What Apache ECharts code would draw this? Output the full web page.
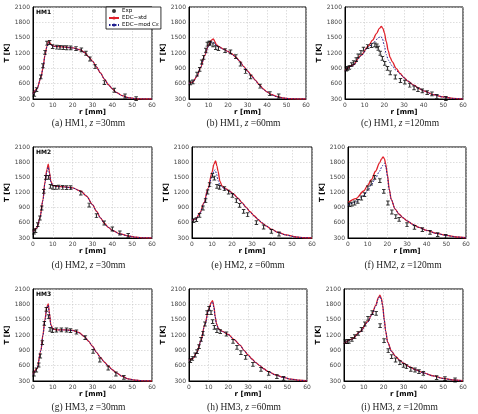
<!DOCTYPE html>
<html><head><meta charset="utf-8">
<script src="https://cdn.jsdelivr.net/npm/echarts@6/dist/echarts.min.js"></script>
<style>html,body{margin:0;padding:0;background:#fff}#c{width:478px;height:414px}</style>
</head><body><div id="c"></div>
<script>
// ---- data: r [mm], T [K] ----
const xTicks = [0,10,20,30,40,50,60];
const yTicks = [300,600,900,1200,1500,1800,2100];

const a_exp = [[0.7,392],[1.8,484],[3.9,734],[5,951],[6,1214],[7,1392],[8.4,1405],[9.9,1326],[12,1313],[13.6,1310],[15.3,1306],[17,1303],[19,1300],[21.7,1287],[24.4,1260],[26.7,1195],[28.7,1083],[31.3,932],[36,622],[41,471],[46.4,359],[52,307]];
const a_std = [[0,400],[2,500],[4,720],[5,900],[6,1150],[7,1330],[7.8,1420],[8.5,1400],[9.5,1350],[11,1330],[15,1320],[20,1300],[24,1260],[26,1210],[28,1130],[30,1040],[32,930],[34,810],[36,690],[38,580],[40,500],[42,430],[45,365],[48,325],[52,305],[56,300],[60,300]];
const a_mod = [[0,400],[2,500],[4,715],[5,895],[6,1140],[7,1320],[7.8,1395],[8.5,1380],[9.5,1345],[11,1328],[15,1318],[20,1298],[24,1258],[26,1208],[28,1128],[30,1038],[32,928],[34,808],[36,688],[38,578],[40,498],[42,428],[45,364],[48,324],[52,305],[56,300],[60,300]];

const b_exp = [[0.7,616],[2,635],[4.1,787],[5.5,879],[6.5,1024],[7.5,1116],[8.6,1254],[9.4,1372],[10.3,1392],[11,1392],[12.3,1359],[13.7,1306],[15.1,1287],[18.5,1247],[21.3,1221],[24,1129],[26.4,984],[29,839],[31.6,734],[36.4,550],[41.5,405],[46,359]];
const b_std = [[0,600],[2,630],[4,740],[6,920],[8,1150],[10,1350],[11.5,1450],[12.5,1475],[13.3,1420],[14,1360],[16,1310],[18,1270],[20,1230],[22,1180],[24,1120],[26,1040],[28,940],[30,850],[32,760],[34,670],[36,580],[38,500],[40,440],[42,390],[45,350],[48,320],[52,305],[56,300],[60,300]];
const b_mod = [[0,600],[2,630],[4,740],[6,920],[8,1150],[10,1330],[11.5,1410],[12.3,1420],[13.3,1380],[14,1340],[16,1300],[18,1265],[20,1225],[22,1175],[24,1115],[26,1035],[28,935],[30,845],[32,755],[34,665],[36,575],[38,495],[40,435],[42,385],[45,345],[48,318],[52,305],[56,300],[60,300]];

const c_exp = [[0.7,886],[1.3,899],[2.2,920],[3.4,971],[4.4,1010],[5.7,1070],[6.7,1142],[8.1,1214],[9.4,1274],[11.5,1326],[13.5,1346],[15.2,1359],[16.2,1339],[16.9,1293],[17.9,1195],[19,1096],[20.2,997],[21.6,899],[23,813],[25.6,730],[28.2,662],[30.4,630],[32.9,570],[35.1,517],[37.1,484],[39.3,458],[41.8,425],[44.2,400],[46.7,350],[51.3,310]];
const c_std = [[0,850],[4,960],[8,1150],[12,1340],[14,1450],[16,1580],[17.5,1680],[18.5,1720],[19.3,1680],[20,1600],[21,1420],[22,1240],[23,1110],[24,1030],[26,900],[28,800],[30,720],[32,650],[35,570],[38,500],[40,460],[45,385],[50,340],[55,312],[60,300]];
const c_mod = [[0,850],[4,955],[8,1140],[12,1320],[15,1420],[17,1500],[18.3,1520],[19,1480],[20,1340],[21,1170],[22,1060],[24,950],[26,860],[28,790],[30,715],[32,648],[35,568],[38,498],[40,458],[45,383],[50,338],[55,311],[60,300]];

const d_exp = [[0.5,419],[1.3,445],[2.4,564],[3.5,696],[4.4,893],[5.4,1222],[6.4,1499],[7.8,1499],[8.8,1321],[10.1,1301],[11.5,1300],[13,1305],[15,1300],[17,1298],[19,1295],[24.1,1189],[28.3,952],[32,741],[35.9,597],[40,478],[43.8,399],[48,350]];
const d_std = [[0,420],[2,500],[3.5,700],[5,1050],[6,1400],[7,1650],[7.7,1760],[8.3,1600],[9,1420],[10,1340],[12,1320],[16,1310],[20,1290],[24,1230],[27,1130],[30,960],[32,830],[34,700],[36,590],[38,510],[40,450],[44,380],[48,340],[52,315],[56,302],[60,300]];
const d_mod = [[0,420],[2,500],[3.5,695],[5,1040],[6,1380],[7,1610],[7.7,1700],[8.3,1570],[9,1410],[10,1335],[12,1318],[16,1308],[20,1288],[24,1228],[27,1128],[30,958],[32,828],[34,698],[36,588],[38,508],[40,448],[44,378],[48,338],[52,314],[56,302],[60,300]];

const e_exp = [[0.8,643],[2.2,663],[3.8,748],[5.5,893],[6.8,1038],[7.8,1210],[8.8,1354],[10.2,1539],[11.2,1486],[12.5,1321],[13.8,1301],[16.2,1275],[18.3,1209],[20.2,1143],[22.2,1038],[23.8,945],[25.8,827],[27.8,761],[32.2,603],[35.8,518],[39.7,432],[43.5,379]];
const e_std = [[0,650],[2,680],[4,800],[6,1000],[8,1280],[10,1600],[11,1760],[11.8,1825],[12.5,1720],[13,1620],[14,1420],[15,1330],[17,1270],[19,1220],[21,1160],[23,1090],[25,1000],[27,910],[29,820],[31,740],[33,670],[35,600],[37,540],[40,470],[43,410],[47,360],[52,320],[56,305],[60,300]];
const e_mod = [[0,650],[2,675],[4,790],[6,985],[8,1250],[10,1520],[11,1630],[11.6,1650],[12.3,1560],[13,1440],[14,1340],[15,1300],[17,1262],[19,1215],[21,1155],[23,1085],[25,997],[27,907],[29,818],[31,738],[33,668],[35,598],[37,538],[40,468],[43,408],[47,358],[52,319],[56,305],[60,300]];

const f_exp = [[0.8,959],[2,972],[3.4,992],[5,1025],[6.8,1091],[8.4,1157],[10.1,1289],[11.8,1388],[13.5,1500],[16.2,1434],[18.2,1223],[20.3,992],[22.3,814],[24.3,721],[26,669],[30,563],[33.8,511],[37.8,465],[41.7,412],[45.6,366],[49.7,333]];
const f_std = [[0,1000],[4,1080],[8,1230],[10,1340],[12,1460],[14,1620],[16,1780],[17,1860],[17.8,1905],[18.5,1870],[19.2,1760],[20,1560],[21,1260],[22,1060],[24,870],[26,770],[28,700],[30,640],[33,570],[36,510],[40,450],[45,390],[50,350],[55,320],[60,305]];
const f_mod = [[0,950],[4,1010],[8,1140],[10,1240],[12,1360],[14,1480],[16,1620],[17.5,1730],[18.5,1780],[19.3,1700],[20,1520],[21,1250],[22,1060],[24,870],[26,770],[28,700],[30,640],[33,570],[36,510],[40,450],[45,390],[50,350],[55,320],[60,305]];

const g_exp = [[0.5,437],[1.7,515],[2.9,613],[3.7,789],[4.7,1050],[5.7,1428],[6.7,1702],[7.8,1558],[8.6,1311],[9.8,1285],[11.8,1298],[14.3,1300],[16.9,1298],[18.9,1285],[21.9,1259],[26.3,1148],[30.3,880],[33.7,711],[37.9,554],[41.8,437],[45.8,372]];
const g_std = [[0,430],[2,540],[4,900],[5,1200],[6,1500],[7,1750],[7.7,1810],[8.3,1620],[9,1400],[10,1320],[12,1300],[16,1300],[20,1290],[23,1250],[26,1170],[28,1080],[30,980],[32,860],[34,760],[36,670],[38,590],[40,520],[42,460],[45,390],[48,340],[52,315],[56,302],[60,300]];
const g_mod = [[0,430],[2,540],[4,895],[5,1190],[6,1480],[7,1720],[7.7,1780],[8.3,1600],[9,1390],[10,1318],[12,1298],[16,1298],[20,1288],[23,1248],[26,1168],[28,1078],[30,978],[32,858],[34,758],[36,668],[38,588],[40,518],[42,458],[45,389],[48,339],[52,315],[56,302],[60,300]];

const h_exp = [[0.7,698],[1.7,744],[3.1,809],[4.1,874],[5.1,972],[6.1,1115],[7.1,1233],[8.1,1415],[9.2,1637],[10.2,1722],[11.2,1637],[12,1461],[12.9,1350],[14.2,1285],[15.9,1265],[19,1220],[22.4,1076],[24.4,958],[26.4,854],[28.8,763],[32.5,626],[36.6,528],[40.5,450],[44.7,385],[48.1,352]];
const h_std = [[0,700],[2,740],[4,860],[6,1080],[8,1400],[10,1700],[11.3,1840],[12,1870],[12.7,1750],[13.3,1560],[14,1420],[15,1320],[17,1270],[20,1210],[23,1110],[26,1000],[28,900],[30,810],[32,730],[34,660],[36,600],[38,540],[40,490],[44,420],[48,370],[52,335],[56,315],[60,305]];
const h_mod = [[0,700],[2,740],[4,855],[6,1070],[8,1385],[10,1680],[11.3,1820],[12,1845],[12.7,1730],[13.3,1550],[14,1410],[15,1318],[17,1268],[20,1208],[23,1108],[26,998],[28,898],[30,808],[32,728],[34,658],[36,598],[38,538],[40,488],[44,418],[48,368],[52,334],[56,315],[60,305]];

const i_exp = [[0.7,1070],[1.7,1070],[2.5,1075],[4,1115],[5.4,1167],[7.1,1233],[8.8,1311],[10.5,1415],[12.1,1526],[14.2,1637],[16.2,1624],[18.2,1383],[20.2,1089],[22.3,893],[24,776],[26,711],[28.2,659],[30,607],[31.5,580],[33.7,528],[35.8,515],[37.8,483],[40,450],[46.7,365],[50.9,346],[56,320]];
const i_std = [[0,1030],[4,1120],[8,1260],[12,1460],[14,1600],[16,1780],[17.3,1930],[18.1,1980],[18.8,1920],[19.5,1780],[20.3,1500],[21,1280],[22,1060],[24,880],[26,780],[28,710],[30,650],[33,580],[36,520],[40,460],[45,400],[50,350],[55,320],[60,305]];
const i_mod = [[0,1030],[4,1115],[8,1250],[12,1450],[14,1590],[16,1765],[17.3,1910],[18.1,1955],[18.8,1900],[19.5,1765],[20.3,1490],[21,1275],[22,1058],[24,878],[26,778],[28,708],[30,648],[33,578],[36,518],[40,458],[45,398],[50,348],[55,320],[60,305]];

const captions = ['(a) HM1, ','(b) HM1, ','(c) HM1, ','(d) HM2, ','(e) HM2, ','(f) HM2, ','(g) HM3, ','(h) HM3, ','(i) HM3, '];
const zVals = ['=30mm','=60mm','=120mm','=30mm','=60mm','=120mm','=30mm','=60mm','=120mm'];
const tags = ['HM1','HM2','HM3'];
const expSets = [a_exp,b_exp,c_exp,d_exp,e_exp,f_exp,g_exp,h_exp,i_exp];
const stdSets = [a_std,b_std,c_std,d_std,e_std,f_std,g_std,h_std,i_std];
const modSets = [a_mod,b_mod,c_mod,d_mod,e_mod,f_mod,g_mod,h_mod,i_mod];

// ---- layout ----
const gridBoxes = [
  [33,7,119,92],[189,7,117,92],[345,7,118,92],
  [33,147,119,91],[192,147,120,91],[348,147,118,91],
  [33,289,119,92],[189,289,118,92],[344,289,119,92]
];
const capY = [118,260,402];

const chart = echarts.init(document.getElementById('c'), null, {renderer:'canvas'});
const grids=[], xAxes=[], yAxes=[], series=[], titles=[];
const ibeam = 'path://M0,0H6V1.6H4V6.4H6V8H0V6.4H2V1.6H0Z';
gridBoxes.forEach((g,i)=>{
  grids.push({left:g[0], top:g[1], width:g[2], height:g[3], show:true, borderColor:'#000', borderWidth:1, backgroundColor:'#fff'});
  xAxes.push({type:'value', gridIndex:i, min:xTicks[0], max:xTicks[xTicks.length-1], interval:xTicks[1]-xTicks[0],
    name:'r [mm]', nameLocation:'middle', nameGap:10,
    nameTextStyle:{fontFamily:'DejaVu Sans', fontWeight:'bold', fontSize:7, color:'#000'},
    axisLine:{show:true, lineStyle:{color:'#000', width:1}}, axisTick:{show:false},
    axisLabel:{fontSize:6, color:'#444', margin:3, fontFamily:'DejaVu Sans', formatter:v=>String(v)},
    splitLine:{show:true, lineStyle:{color:'#c8c8c8', width:0.6, type:[1.5,1.5]}}});
  yAxes.push({type:'value', gridIndex:i, min:yTicks[0], max:yTicks[yTicks.length-1], interval:yTicks[1]-yTicks[0],
    name:'T [K]', nameLocation:'middle', nameGap:20, nameRotate:90,
    nameTextStyle:{fontFamily:'DejaVu Sans', fontWeight:'bold', fontSize:7, color:'#000'},
    axisLine:{show:true, lineStyle:{color:'#000', width:1}}, axisTick:{show:false},
    axisLabel:{fontSize:6, color:'#444', margin:3, fontFamily:'DejaVu Sans', formatter:v=>String(v)},
    splitLine:{show:true, lineStyle:{color:'#c8c8c8', width:0.6, type:[1.5,1.5]}}});
  series.push({type:'line', name:'EDC−std', xAxisIndex:i, yAxisIndex:i, data:stdSets[i], symbol:'none',
    smooth:0.3, smoothMonotone:'x', lineStyle:{color:'#e0202a', width:1.3}, itemStyle:{color:'#e0202a'}, z:2});
  series.push({type:'line', name:'EDC−mod Cε', xAxisIndex:i, yAxisIndex:i, data:modSets[i], symbol:'none',
    smooth:0.3, smoothMonotone:'x', lineStyle:{color:'#1f1f8f', width:1, type:[1.5,1.5]}, itemStyle:{color:'#1f1f8f'}, z:3});
  series.push({type:'scatter', name:'Exp', xAxisIndex:i, yAxisIndex:i, data:expSets[i], symbol:ibeam,
    symbolSize:[3.5,4.8], itemStyle:{color:'#000'}, z:4});
  const row = Math.floor(i/3);
  titles.push({text:captions[i]+'{i|z} '+zVals[i], left:g[0]+g[2]/2-4, top:capY[row], textAlign:'center', padding:0,
    textStyle:{fontFamily:'Liberation Serif', fontWeight:'normal', fontSize:9.5, color:'#222',
      rich:{i:{fontFamily:'Liberation Serif', fontStyle:'italic', fontSize:9.5, color:'#222'}}}});
  if(i%3===0){
    titles.push({text:tags[row], left:g[0]+3, top:g[1]+2, padding:0,
      textStyle:{fontFamily:'DejaVu Sans', fontWeight:'bold', fontSize:6, color:'#000'}});
  }
});

chart.setOption({
  animation:false,
  backgroundColor:'#fff',
  title:titles,
  grid:grids, xAxis:xAxes, yAxis:yAxes, series:series,
  legend:{show:true, orient:'vertical', left:106, top:7, itemGap:1, itemWidth:10, itemHeight:4,
    padding:[1,2,1,2], borderColor:'#000', borderWidth:0.8, backgroundColor:'#fff',
    textStyle:{fontSize:5.5, color:'#000', fontFamily:'DejaVu Sans', padding:[0,0,0,-2]},
    data:[{name:'Exp', icon:'circle', itemStyle:{color:'#000'}},{name:'EDC−std'},{name:'EDC−mod Cε'}],
    selectedMode:false}
});
</script></body></html>
